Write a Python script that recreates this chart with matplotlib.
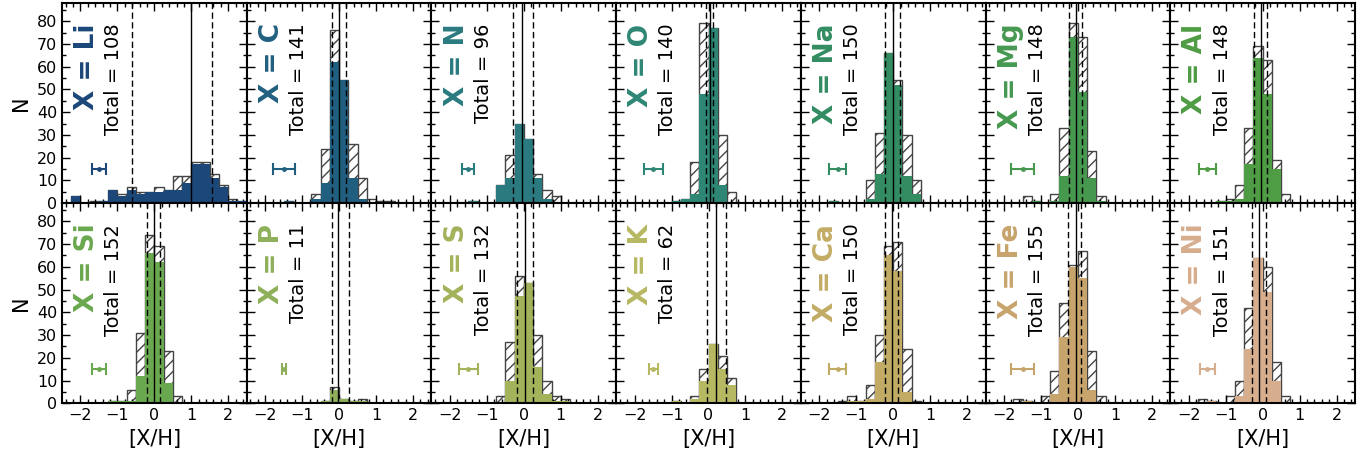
import numpy as np
import matplotlib
matplotlib.use("Agg")
import matplotlib.pyplot as plt
from matplotlib.ticker import MultipleLocator, AutoMinorLocator

# ---------------- data ----------------
elements = ["Li", "C", "N", "O", "Na", "Mg", "Al",
            "Si", "P", "S", "K", "Ca", "Fe", "Ni"]
bin_edges = np.arange(-2.5, 2.5001, 0.25)

all_counts = {
    "Li": [0, 3, 0, 1, 1, 6, 4, 7, 5, 5, 7, 6, 12, 12, 18, 18, 13, 8, 2, 1],
    "C":  [0, 0, 0, 0, 1, 0, 0, 4, 24, 76, 54, 26, 11, 2, 1, 1, 0, 0, 0, 0],
    "N":  [0, 0, 0, 0, 1, 0, 0, 8, 21, 35, 28, 13, 6, 3, 0, 0, 0, 0, 0, 0],
    "O":  [0, 0, 0, 0, 0, 0, 1, 2, 18, 79, 77, 30, 5, 0, 0, 0, 0, 0, 0, 0],
    "Na": [0, 0, 0, 1, 0, 0, 0, 10, 31, 66, 54, 30, 10, 0, 0, 0, 0, 0, 0, 0],
    "Mg": [0, 0, 0, 0, 3, 1, 0, 4, 33, 79, 73, 23, 3, 0, 0, 0, 0, 0, 0, 0],
    "Al": [0, 0, 0, 0, 0, 1, 2, 8, 33, 69, 63, 19, 4, 0, 0, 0, 0, 0, 0, 0],
    "Si": [0, 0, 0, 0, 0, 1, 1, 6, 31, 74, 69, 23, 3, 0, 0, 0, 0, 0, 0, 0],
    "P":  [0, 0, 0, 0, 0, 0, 0, 0, 1, 7, 2, 1, 2, 0, 0, 0, 0, 0, 0, 0],
    "S":  [0, 0, 0, 0, 0, 0, 0, 3, 27, 56, 53, 30, 10, 3, 2, 0, 0, 0, 0, 0],
    "K":  [0, 0, 0, 0, 0, 0, 1, 0, 3, 15, 26, 21, 11, 0, 0, 0, 0, 0, 0, 0],
    "Ca": [0, 0, 0, 0, 1, 3, 1, 8, 30, 69, 71, 24, 1, 0, 0, 0, 0, 0, 0, 0],
    "Fe": [0, 0, 0, 2, 1, 0, 3, 14, 44, 61, 67, 23, 3, 0, 0, 0, 0, 0, 0, 0],
    "Ni": [0, 0, 0, 2, 1, 0, 3, 10, 42, 64, 60, 18, 3, 0, 0, 0, 0, 0, 0, 0],
}
sub_counts = {
    "Li": [0, 3, 0, 0, 1, 6, 3, 6, 4, 5, 5, 6, 6, 9, 17, 17, 11, 7, 1, 1],
    "C":  [0, 0, 0, 0, 1, 0, 0, 2, 9, 62, 54, 11, 2, 0, 0, 0, 0, 0, 0, 0],
    "N":  [0, 0, 0, 0, 1, 0, 0, 8, 11, 35, 28, 11, 2, 0, 0, 0, 0, 0, 0, 0],
    "O":  [0, 0, 0, 0, 0, 0, 1, 2, 4, 48, 77, 8, 0, 0, 0, 0, 0, 0, 0, 0],
    "Na": [0, 0, 0, 1, 0, 0, 0, 2, 13, 66, 52, 12, 4, 0, 0, 0, 0, 0, 0, 0],
    "Mg": [0, 0, 0, 0, 0, 1, 0, 1, 12, 73, 49, 11, 1, 0, 0, 0, 0, 0, 0, 0],
    "Al": [0, 0, 0, 0, 0, 1, 1, 2, 17, 64, 48, 15, 0, 0, 0, 0, 0, 0, 0, 0],
    "Si": [0, 0, 0, 0, 0, 1, 1, 1, 12, 66, 62, 9, 0, 0, 0, 0, 0, 0, 0, 0],
    "P":  [0, 0, 0, 0, 0, 0, 0, 0, 1, 6, 2, 1, 1, 0, 0, 0, 0, 0, 0, 0],
    "S":  [0, 0, 0, 0, 0, 0, 0, 0, 10, 47, 53, 16, 4, 1, 1, 0, 0, 0, 0, 0],
    "K":  [0, 0, 0, 0, 0, 0, 1, 0, 2, 10, 26, 15, 8, 0, 0, 0, 0, 0, 0, 0],
    "Ca": [0, 0, 0, 0, 0, 1, 1, 2, 18, 65, 58, 5, 0, 0, 0, 0, 0, 0, 0, 0],
    "Fe": [0, 0, 0, 0, 1, 0, 0, 4, 29, 60, 55, 6, 0, 0, 0, 0, 0, 0, 0, 0],
    "Ni": [0, 0, 0, 0, 1, 0, 0, 3, 24, 64, 49, 10, 0, 0, 0, 0, 0, 0, 0, 0],
}
totals = [108, 141, 96, 140, 150, 148, 148, 152, 11, 132, 62, 150, 155, 151]
medians = [0.98, 0.0, -0.04, 0.03, -0.01, -0.05, -0.04,
           -0.01, -0.02, 0.04, 0.20, -0.04, -0.06, -0.09]
lower = [-0.61, -0.19, -0.28, -0.07, -0.22, -0.23, -0.23,
         -0.21, -0.18, -0.19, -0.05, -0.22, -0.28, -0.29]
upper = [1.57, 0.19, 0.24, 0.13, 0.19, 0.10, 0.13,
         0.15, 0.27, 0.26, 0.47, 0.12, 0.09, 0.09]
err_x = [-1.5] * 14
err_y = [15] * 14
err_half = [0.18, 0.30, 0.16, 0.26, 0.23, 0.30, 0.23,
            0.19, 0.05, 0.25, 0.12, 0.23, 0.30, 0.21]

colors = ["#1b4779", "#215f80", "#2a7a80", "#2e8674", "#338c62", "#46984f", "#4e9c43",
          "#6aa84f", "#8fb05a", "#a2b35b", "#b6b862", "#c2ac65", "#c7a46c", "#d6ae8e"]

# ---------------- figure ----------------
fig = plt.figure(figsize=(13.69, 4.57), dpi=100)
axes = fig.subplots(2, 7, sharex=True, sharey=True,
                    gridspec_kw=dict(hspace=0, wspace=0, left=0.0453, right=0.9898,
                                     bottom=0.1175, top=0.9934))

for k, el in enumerate(elements):
    ax = axes.flat[k]
    c = colors[k]
    ax.bar(bin_edges[:-1], all_counts[el], width=0.25, align="edge",
           facecolor="white", edgecolor="#444444", hatch="///", linewidth=1.0, zorder=1)
    ax.bar(bin_edges[:-1], sub_counts[el], width=0.25, align="edge",
           facecolor=c, edgecolor="none", linewidth=0, zorder=2)
    ax.axvline(medians[k], color="black", lw=1.0, zorder=3)
    ax.axvline(lower[k], color="black", lw=1.0, ls=(0, (4.5, 2.5)), zorder=3)
    ax.axvline(upper[k], color="black", lw=1.0, ls=(0, (4.5, 2.5)), zorder=3)
    ax.errorbar(err_x[k], err_y[k], xerr=err_half[k], fmt="o", ms=2.5, color=c,
                capsize=4, elinewidth=1.5, capthick=1.5, zorder=4)
    ax.text(-1.82, 79, f"X = {el}", rotation=90, ha="center", va="top",
            fontsize=19, fontweight="bold", color=c)
    ax.text(-1.1, 79, f"Total = {totals[k]}", rotation=90, ha="center", va="top",
            fontsize=14, color="black")

    ax.set_xlim(-2.5, 2.5)
    ax.set_ylim(0, 88)
    ax.xaxis.set_major_locator(MultipleLocator(1))
    ax.xaxis.set_minor_locator(AutoMinorLocator(5))
    ax.yaxis.set_major_locator(MultipleLocator(10))
    ax.yaxis.set_minor_locator(AutoMinorLocator(2))
    ax.tick_params(which="both", direction="in", top=True, right=True,
                   labelsize=11.5, width=1.0)
    ax.tick_params(which="major", length=6)
    ax.tick_params(which="minor", length=3)
    for s in ax.spines.values():
        s.set_linewidth(1.5)
    if k % 7 == 0:
        ax.set_ylabel("N", fontsize=15)
    if k >= 7:
        ax.set_xlabel("[X/H]", fontsize=15)

fig.savefig("out.png", dpi=100)
